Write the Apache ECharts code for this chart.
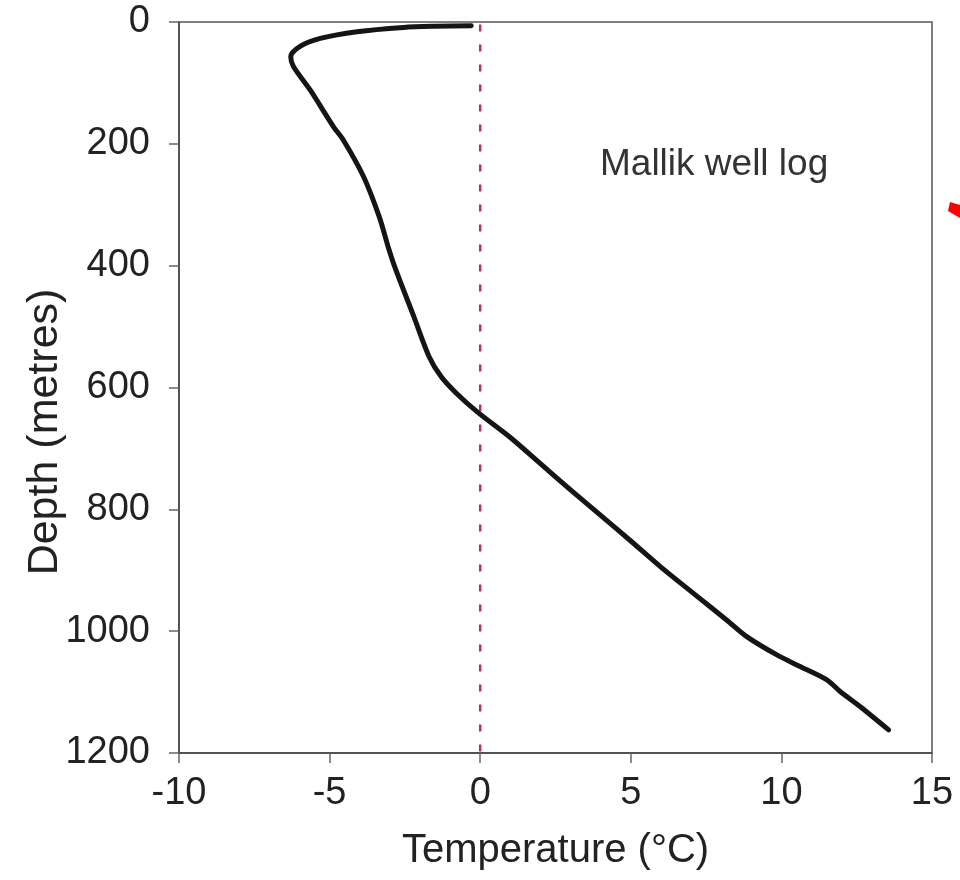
<!DOCTYPE html>
<html>
<head>
<meta charset="utf-8">
<title>Mallik well log</title>
<script src="https://cdn.jsdelivr.net/npm/echarts@6/dist/echarts.min.js"></script>
<style>
  html, body { margin: 0; padding: 0; background: #fff; }
  #main { width: 960px; height: 880px; }
</style>
</head>
<body>
<div id="main"></div>
<script>
// temperature log values (deg C vs depth in m)
var temperature = [-0.3, -1.5, -2.55, -4.09, -5.31, -5.98, -6.29, -6.2, -5.64, -4.87, -4.54, -3.87, -3.35, -3.05, -2.8, -2.2, -1.7, -1.3, -0.8, -0.1, 1.0, 2.0, 3.0, 4.0, 5.0, 5.98, 7.08, 8.19, 8.85, 9.85, 10.62, 11.51, 11.95, 12.62, 13.56]
var depth = [6, 7, 9, 16, 27, 40, 57, 73, 112, 172, 194, 254, 320, 370, 407, 484, 549, 582, 609, 640, 682, 725, 768, 810, 852, 894, 938, 982, 1009, 1039, 1058, 1080, 1099, 1124, 1162]
// 0 degree reference line
var zeroLineTemp = [0, 0]
var zeroLineDepth = [4, 1200]
var xTicks = [-10, -5, 0, 5, 10, 15]
var yTicks = [0, 200, 400, 600, 800, 1000, 1200]

var FONT = "'Liberation Sans', Arial, sans-serif"

function pairs(xs, ys) {
  var out = []
  for (var i = 0; i < xs.length; i++) {
    out.push([xs[i], ys[i]])
  }
  return out
}

var chart = echarts.init(document.getElementById('main'), null, { renderer: 'canvas' })

chart.setOption({
  backgroundColor: '#ffffff',
  animation: false,
  grid: {
    left: 179, right: 28, top: 22, bottom: 127,
    containLabel: false,
    outerBoundsMode: 'none',
    show: true,
    borderColor: '#555',
    borderWidth: 1.5,
    backgroundColor: 'transparent'
  },
  xAxis: {
    type: 'value',
    min: xTicks[0],
    max: xTicks[xTicks.length - 1],
    interval: 5,
    position: 'bottom',
    name: 'Temperature (°C)',
    nameLocation: 'middle',
    nameGap: 78,
    nameTextStyle: { fontFamily: FONT, fontSize: 40, color: '#222' },
    axisLine: { show: true, onZero: false, lineStyle: { color: '#444', width: 1.5 } },
    axisTick: { show: true, inside: false, length: 10, lineStyle: { color: '#666', width: 1.5 } },
    axisLabel: {
      fontFamily: FONT, fontSize: 38, color: '#222', margin: 22,
      formatter: function (v) { return String(v) }
    },
    splitLine: { show: false }
  },
  yAxis: {
    type: 'value',
    inverse: true,
    min: yTicks[0],
    max: yTicks[yTicks.length - 1],
    interval: 200,
    axisLine: { show: true, onZero: false, lineStyle: { color: '#444', width: 1.5 } },
    axisTick: { show: true, inside: false, length: 10, lineStyle: { color: '#666', width: 1.5 } },
    axisLabel: {
      fontFamily: FONT, fontSize: 38, color: '#222', margin: 29,
      formatter: function (v) { return String(v) }
    },
    splitLine: { show: false }
  },
  graphic: [
    {
      type: 'text',
      left: 600, top: 146,
      style: { text: 'Mallik well log', font: '37px ' + FONT, fill: '#333' }
    },
    {
      type: 'text',
      x: 45, y: 432,
      rotation: Math.PI / 2,
      style: {
        text: 'Depth (metres)', font: '43px ' + FONT, fill: '#222',
        align: 'center', verticalAlign: 'middle'
      }
    },
    {
      type: 'polygon',
      shape: { points: [[950, 202], [960, 205], [960, 218], [948, 211]] },
      style: { fill: '#ff0000' }
    }
  ],
  series: [
    {
      name: 'zero',
      type: 'line',
      data: pairs(zeroLineTemp, zeroLineDepth),
      symbol: 'none',
      silent: true,
      lineStyle: { color: '#c0304a', width: 2.5, type: [7, 13] },
      z: 1
    },
    {
      name: 'Mallik',
      type: 'line',
      data: pairs(temperature, depth),
      symbol: 'none',
      smooth: 0.3,
      lineStyle: { color: '#151515', width: 5, cap: 'round', join: 'round' },
      z: 3
    }
  ]
})
</script>
</body>
</html>
